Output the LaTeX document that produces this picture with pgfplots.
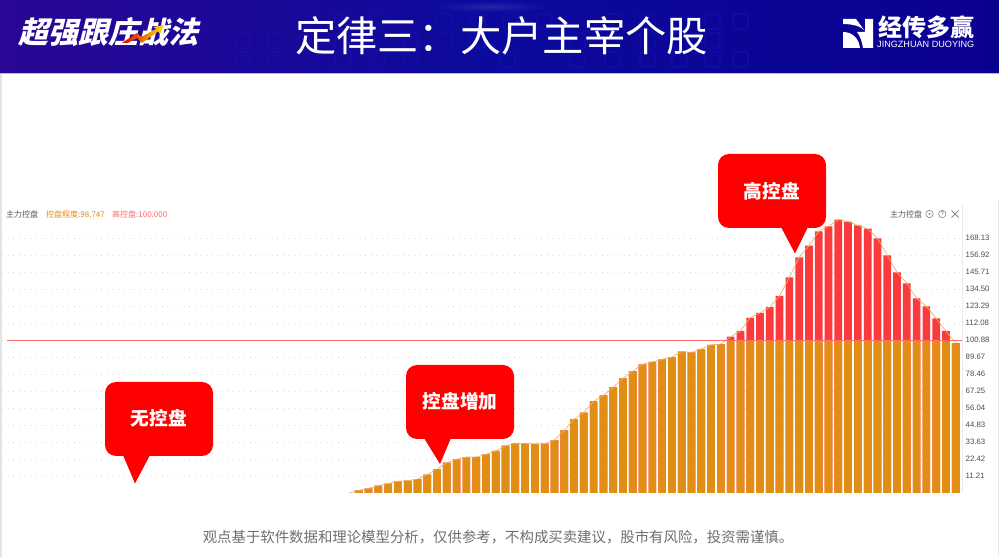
\documentclass[border=0pt]{standalone}
\usepackage{fontspec}
\usepackage{pgfplots}
\usepackage{pgfplotstable}
\pgfplotsset{compat=1.18}
\setmainfont{Noto Sans CJK SC}
\newfontfamily\latinf{Liberation Sans}
\newfontfamily\slantf[FakeSlant=0.25]{Noto Sans CJK SC}
\definecolor{barorange}{HTML}{E28D14}
\definecolor{barred}{HTML}{FA3A3C}
\definecolor{lineorange}{HTML}{F0B066}
\definecolor{hlinered}{HTML}{FF6A6A}
\definecolor{gridc}{HTML}{DDDDDD}
\definecolor{labelgray}{HTML}{555555}
\definecolor{calloutred}{HTML}{FF0000}
\definecolor{hdrL}{HTML}{2A0795}
\definecolor{hdrM}{HTML}{0B0A9C}
\definecolor{hdrR}{HTML}{0A0090}
\definecolor{squarec}{HTML}{1414B8}
\definecolor{glow}{HTML}{3230B0}
\pgfplotstableread{
i v low
0 1.8 1.8
1 3.1 3.1
2 4.8 4.8
3 6.2 6.2
4 7.7 7.7
5 8.1 8.1
6 9.2 9.2
7 12.1 12.1
8 15.8 15.8
9 20.0 20.0
10 22.2 22.2
11 23.7 23.7
12 23.7 23.7
13 25.5 25.5
14 27.7 27.7
15 31.2 31.2
16 32.7 32.7
17 32.7 32.7
18 32.3 32.3
19 32.5 32.5
20 34.9 34.9
21 41.3 41.3
22 48.6 48.6
23 53.0 53.0
24 60.4 60.4
25 64.4 64.4
26 69.7 69.7
27 75.6 75.6
28 80.4 80.4
29 84.8 84.8
30 86.4 86.4
31 88.1 88.1
32 89.6 89.6
33 93.2 93.2
34 92.7 92.7
35 94.9 94.9
36 97.6 97.6
37 98.2 98.2
38 103.0 100.88
39 106.8 100.88
40 115.4 100.88
41 118.7 100.88
42 122.6 100.88
43 129.9 100.88
44 142.2 100.88
45 155.3 100.88
46 163.0 100.88
47 172.5 100.88
48 175.8 100.88
49 180.2 100.88
50 178.9 100.88
51 176.4 100.88
52 174.2 100.88
53 167.9 100.88
54 156.7 100.88
55 145.5 100.88
56 138.2 100.88
57 128.3 100.88
58 123.0 100.88
59 115.1 100.88
60 106.8 100.88
61 98.75 98.75
}\barsdata
\begin{document}
\begin{tikzpicture}
\path[fill=white] (0,0) rectangle (999pt,557pt);
\begin{scope}[x=1pt,y=-1pt,yshift=557pt]
  % page borders
  \fill[gridc!80] (0,73) rectangle (2,557);
  \fill[gridc!60] (998,200) rectangle (999,557);
  % header
  \shade[left color=hdrL,right color=hdrR,middle color=hdrM] (0,1) rectangle (999,73);
  \fill[white!70!hdrM] (0,73) rectangle (999,74);
  \foreach \px in {335,370,437,470,503,537,605,640,705,733}
    \draw[squarec,line width=0.6pt,rounded corners=1.5pt] (\px,14) rectangle ++(15,15);
  \foreach \px in {235,268,335,403,437,470,570,640,672,705}
    \draw[squarec,line width=0.6pt,rounded corners=1.5pt] (\px,33) rectangle ++(15,15);
  \foreach \px in {235,268,303,335,370,403,500,570,605,640,672,705,733}
    \draw[squarec,line width=0.6pt,rounded corners=1.5pt] (\px,52) rectangle ++(15,15);
  \shade[inner color=glow,outer color=hdrM,opacity=.7] (430,1) rectangle (550,12);
  \node[anchor=center,text=white,font=\fontsize{41.3}{42}\selectfont,inner sep=0] at (501.5,36) {定律三：大户主宰个股};
  \node[anchor=center,text=white,font=\fontsize{30}{30}\selectfont\slantf\bfseries,inner sep=0] at (108.5,32) {超强跟庄战法};
  \shade[left color=red!85!black,right color=yellow!80!orange]
    (122,43) -- (137,33) -- (141,37) -- (156,29) -- (153,27) -- (164,25) -- (160,34) -- (158,31.5) -- (142,43) -- (137,38) -- (128,43) -- cycle;
  % right logo
  \fill[white] (843,19) -- (856,19) -- (865.5,32) .. controls (862,26) and (852,24) .. (843,24) -- cycle;
  \fill[white] (843,32) .. controls (853,32) and (859,39) .. (860,48) -- (843,48) -- cycle;
  \fill[white] (865,19) -- (873,19) -- (873,48) -- (863,48) .. controls (862,41) and (860,36) .. (857,32) -- (865,32) -- cycle;
  \node[anchor=west,text=white,font=\fontsize{24}{24}\selectfont\bfseries,inner sep=0] at (878,27.5) {经传多赢};
  \node[anchor=west,text=white,font=\fontsize{9.1}{10}\selectfont\latinf,inner sep=0] at (877,44.5) {JINGZHUAN DUOYING};
  % chart frame
  \draw[gridc!60,line width=0.6pt] (962,205) -- (962,493);
  % chart legend
  \node[anchor=west,text=labelgray,font=\fontsize{8}{8}\selectfont,inner sep=0] at (6,214) {主力控盘};
  \node[anchor=west,text=barorange,font=\fontsize{8}{8}\selectfont,inner sep=0] at (46,214) {控盘程度:98.747};
  \node[anchor=west,text=hlinered,font=\fontsize{8}{8}\selectfont,inner sep=0] at (112,214) {高控盘:100.000};
  \node[anchor=west,text=labelgray,font=\fontsize{8}{8}\selectfont,inner sep=0] at (890,214) {主力控盘};
  \draw[labelgray!80,line width=0.5pt] (929.5,214) circle (3.7);
  \fill[labelgray!80] (929.5,214) circle (1);
  \draw[labelgray!80,line width=0.5pt] (942.3,214) circle (3.7);
  \node[text=labelgray,font=\fontsize{5.5}{5.5}\selectfont\latinf,inner sep=0] at (942.3,214) {?};
  \draw[labelgray!80,line width=0.7pt] (951.5,210.5) -- (958.5,217.5) (951.5,217.5) -- (958.5,210.5);
  % footer
  \node[anchor=center,text=labelgray!85,font=\fontsize{14.4}{15}\selectfont,inner sep=0] at (498,537) {观点基于软件数据和理论模型分析，仅供参考，不构成买卖建议，股市有风险，投资需谨慎。};
\end{scope}
\begin{axis}[
  at={(2pt,64pt)},anchor=south west,
  scale only axis,width=960pt,height=288pt,
  xmin=-36.45,xmax=61.64,ymin=0,ymax=189.85,
  axis line style={draw=none},
  major tick length=0pt,
  xtick=\empty,
  ytick={11.21,22.42,33.63,44.83,56.04,67.25,78.46,89.67,100.88,112.08,123.29,134.50,145.71,156.92,168.13},
  yticklabels={11.21,22.42,33.63,44.83,56.04,67.25,78.46,89.67,100.88,112.08,123.29,134.50,145.71,156.92,168.13},
  yticklabel pos=right,
  yticklabel style={anchor=west,inner sep=0pt,xshift=3.5pt,text=labelgray!90!black,font=\fontsize{7.8}{8}\selectfont\latinf},
  ymajorgrids,
  grid style={gridc,line width=0.6pt,dash pattern=on 1pt off 4.5pt},
  clip=false,
]
\addplot[ybar,bar shift=0pt,bar width=7.7pt,fill=barred,draw=none] table[x=i,y=v]{\barsdata};
\addplot[ybar,bar shift=0pt,bar width=7.7pt,fill=barorange,draw=none] table[x=i,y=low]{\barsdata};
\addplot[lineorange,line width=0.7pt] table[x=i,y=v]{\barsdata};
\addplot[lineorange,line width=0.7pt] coordinates {(-1,0) (0,1.8)};
\addplot[hlinered,line width=0.8pt] coordinates {(-35.94,100.88) (61.64,100.88)};
\end{axis}
\begin{scope}[x=1pt,y=-1pt,yshift=557pt]
  % callouts
  \fill[calloutred,rounded corners=11pt] (105,382) rectangle (213,456);
  \fill[calloutred] (123,455) -- (150,455) -- (135,483.5) -- cycle;
  \node[text=white,font=\fontsize{18.7}{18.7}\selectfont\bfseries,inner sep=0] at (159,418.5) {无控盘};
  \fill[calloutred,rounded corners=11pt] (406,365) rectangle (514,439);
  \fill[calloutred] (424,438) -- (451,438) -- (440,464) -- cycle;
  \node[text=white,font=\fontsize{18.7}{18.7}\selectfont\bfseries,inner sep=0] at (460,401) {控盘增加};
  \fill[calloutred,rounded corners=11pt] (718,154) rectangle (826,228);
  \fill[calloutred] (781,227) -- (808,227) -- (795,253.5) -- cycle;
  \node[text=white,font=\fontsize{18.7}{18.7}\selectfont\bfseries,inner sep=0] at (772,191) {高控盘};
\end{scope}
\end{tikzpicture}
\end{document}
